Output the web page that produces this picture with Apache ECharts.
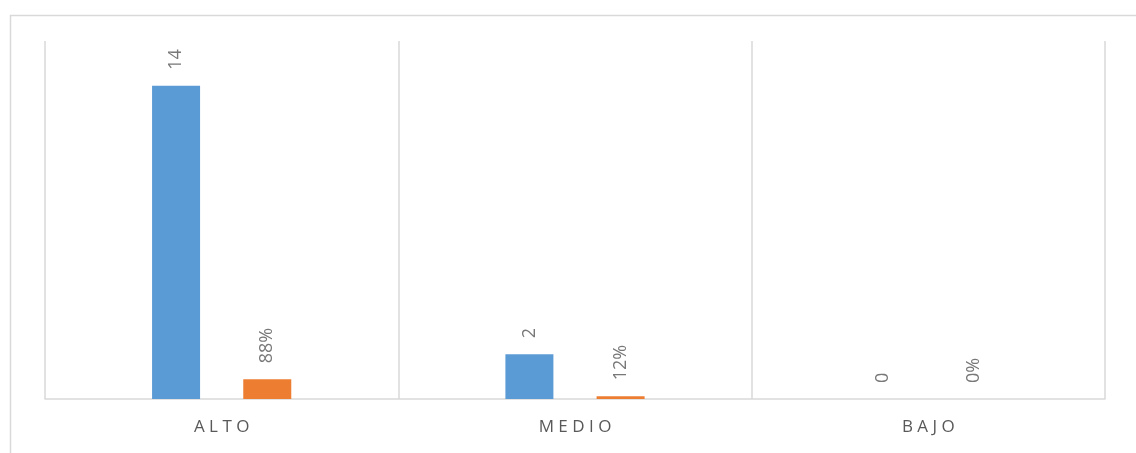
<!DOCTYPE html>
<html>
<head>
<meta charset="utf-8">
<script src="https://cdn.jsdelivr.net/npm/echarts@6/dist/echarts.min.js"></script>
<style>html,body{margin:0;padding:0;background:#fff;}#c{width:1136px;height:453px;}</style>
</head>
<body>
<div id="c"></div>
<script>
var categories = ['ALTO', 'MEDIO', 'BAJO'];
var countValues = [14, 2, 0];
var percentValues = [0.88, 0.12, 0];
var yMin = 0, yMax = 16;

function spaced(s){ return s.split('').join(' '); }

var chart = echarts.init(document.getElementById('c'), null, {renderer:'canvas'});
var labelFont = {color:'#787878', fontSize:18, fontFamily:'Open Sans'};
chart.setOption({
  animation:false,
  backgroundColor:'#fff',
  graphic:[{type:'rect', shape:{x:10.5, y:15.5, width:1200, height:600}, style:{fill:'none', stroke:'#d9d9d9', lineWidth:1.5}, silent:true, z:-1}],
  grid:{left:45, right:31, top:41, bottom:54, containLabel:false},
  xAxis:{
    type:'category', data:categories, boundaryGap:true,
    axisLine:{show:true, lineStyle:{color:'#d9d9d9', width:1.5}},
    axisTick:{show:false},
    splitLine:{show:true, lineStyle:{color:'#d9d9d9', width:1.5}},
    axisLabel:{color:'#595959', fontSize:17, fontFamily:'Open Sans', margin:20, formatter:function(v){return spaced(v);}}
  },
  yAxis:{type:'value', min:yMin, max:yMax, show:false, splitLine:{show:false}},
  series:[
    {type:'bar', name:'Frecuencia', data:countValues, barWidth:48, barGap:'90%',
     itemStyle:{color:'#5b9bd5'},
     label:{show:true, position:'top', rotate:90, align:'left', verticalAlign:'middle', distance:16, formatter:function(p){return p.value;}, color:labelFont.color, fontSize:labelFont.fontSize, fontFamily:labelFont.fontFamily}},
    {type:'bar', name:'Porcentaje', data:percentValues, barWidth:48,
     itemStyle:{color:'#ed7d31'},
     label:{show:true, position:'top', rotate:90, align:'left', verticalAlign:'middle', distance:16, formatter:function(p){return Math.round(p.value*100)+'%';}, color:labelFont.color, fontSize:labelFont.fontSize, fontFamily:labelFont.fontFamily}}
  ]
});
</script>
</body>
</html>
